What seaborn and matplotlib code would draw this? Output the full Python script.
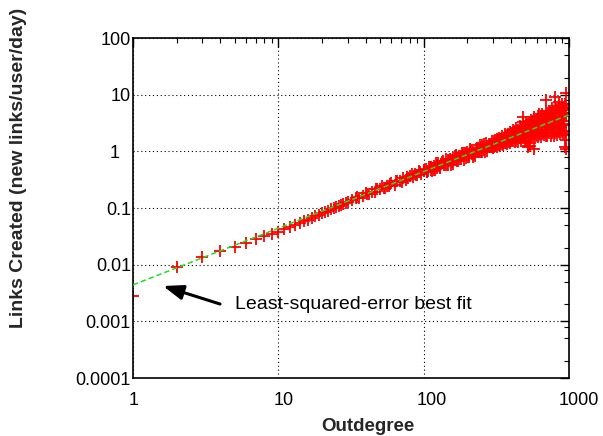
import matplotlib
matplotlib.use("Agg")
import matplotlib.pyplot as plt
import matplotlib.ticker as mticker
import matplotlib.transforms as mtransforms
import seaborn as sns
import pandas as pd

# ---------------- data ----------------
deg_low = list(range(1, 31))
rate_low = [0.0028, 0.0092, 0.0138, 0.0174, 0.0202, 0.0244, 0.0284, 0.032, 0.0348, 0.038,
            0.0425, 0.046, 0.0495, 0.0535, 0.058, 0.062, 0.066, 0.071, 0.075, 0.080,
            0.085, 0.090, 0.095, 0.099, 0.104, 0.108, 0.113, 0.118, 0.122, 0.127]

deg_mid = [32, 34, 36, 38, 40, 42, 44, 46, 48, 50, 52, 54, 56, 58, 60, 63, 66, 69, 72, 75,
           78, 81, 84, 87, 90, 93, 96, 100]
rate_mid = [0.137, 0.153, 0.150, 0.165, 0.183, 0.178, 0.194, 0.190, 0.217, 0.216, 0.243,
            0.226, 0.248, 0.247, 0.277, 0.258, 0.296, 0.298, 0.339, 0.314, 0.343, 0.370,
            0.348, 0.394, 0.384, 0.442, 0.405, 0.449]

deg_mid2 = [35, 41, 47, 53, 59, 65, 71, 77, 83, 89, 95]
rate_mid2 = [0.159, 0.175, 0.217, 0.221, 0.265, 0.303, 0.293, 0.353, 0.391, 0.376, 0.439]

deg_c1 = [103, 106, 109, 112, 115, 118, 121, 124, 127, 130, 134, 138, 142, 146, 150, 154,
          158, 162, 166, 170, 175, 180, 185, 190, 195, 200, 205, 210, 215, 220, 226, 232,
          238, 244, 250, 256, 262, 268, 274, 280, 287, 294, 300]
rate_c1 = [0.489, 0.424, 0.538, 0.473, 0.445, 0.545, 0.612, 0.508, 0.559, 0.498, 0.649,
           0.577, 0.738, 0.578, 0.680, 0.583, 0.778, 0.692, 0.876, 0.666, 0.816, 0.729,
           0.944, 0.711, 0.875, 0.968, 0.794, 1.10, 0.889, 1.036, 0.835, 1.154, 1.016,
           1.31, 0.957, 1.171, 1.038, 1.379, 1.001, 1.343, 1.20, 1.553, 1.162]

deg_c2 = [105, 111, 117, 123, 129, 136, 144, 152, 160, 168, 177, 187, 197, 207, 217, 228,
          240, 252, 264, 277, 290]
rate_c2 = [0.439, 0.537, 0.464, 0.573, 0.523, 0.676, 0.564, 0.723, 0.605, 0.828, 0.732,
           0.946, 0.763, 0.957, 0.783, 1.103, 0.961, 1.286, 0.988, 1.243, 1.187]

deg_c3 = [101, 107, 113, 119, 125, 131, 140, 148, 156, 164, 172, 182, 192, 202, 212, 223,
          235, 247, 259, 271, 284, 297]
rate_c3 = [0.471, 0.457, 0.537, 0.472, 0.616, 0.588, 0.567, 0.716, 0.652, 0.830, 0.681,
           0.841, 0.946, 0.809, 1.064, 0.912, 1.137, 0.957, 1.334, 1.132, 1.35, 1.176]

deg_high = [305, 305, 305, 312, 312, 312, 320, 320, 320, 328, 328, 328, 336, 336, 336,
            345, 345, 345, 354, 354, 354, 363, 363, 363, 372, 372, 372, 382, 382, 382,
            392, 392, 392, 402, 402, 402, 413, 413, 413, 424, 424, 424, 435, 435, 435,
            446, 446, 446, 458, 458, 458, 470, 470, 470, 482, 482, 482, 495, 495, 495,
            508, 508, 508, 521, 521, 521, 535, 535, 535, 549, 549, 549, 563, 563, 563,
            578, 578, 578, 593, 593, 593, 608, 608, 608, 624, 624, 624, 640, 640, 640,
            657, 657, 657, 674, 674, 674, 691, 691, 691, 709, 709, 709, 727, 727, 727,
            746, 746, 746, 765, 765, 765, 785, 785, 785, 805, 805, 805, 826, 826, 826,
            847, 847, 847, 869, 869, 869, 891, 891, 891, 914, 914, 914, 937, 937, 937,
            950, 950, 950]
rate_high = [1.50, 1.18, 1.34, 1.24, 1.58, 1.41, 1.66, 1.21, 1.37, 1.33, 1.56, 1.73,
             1.26, 1.51, 1.68, 1.85, 1.37, 1.47, 1.31, 1.71, 1.56, 1.87, 1.41, 2.00,
             1.34, 1.72, 1.56, 2.02, 1.46, 1.85, 1.38, 2.21, 1.67, 2.00, 1.52, 1.80,
             2.36, 1.51, 1.73, 1.46, 2.16, 1.96, 2.58, 1.72, 1.53, 2.16, 1.49, 2.39,
             1.71, 2.82, 2.02, 2.59, 1.53, 1.92, 1.70, 3.29, 2.29, 2.83, 1.57, 2.07,
             1.52, 2.57, 3.24, 1.26, 2.29, 3.09, 1.41, 2.94, 2.00, 3.62, 1.69, 2.54,
             1.86, 3.47, 2.28, 4.07, 1.73, 2.85, 1.88, 3.39, 2.48, 4.15, 1.77, 2.89,
             1.92, 3.43, 4.53, 1.80, 2.87, 4.08, 4.63, 2.02, 3.41, 1.93, 4.00, 2.67,
             5.17, 1.88, 3.34, 1.87, 4.37, 2.96, 5.18, 2.11, 3.84, 1.90, 4.27, 2.89,
             5.89, 2.12, 3.70, 1.90, 5.01, 3.28, 6.38, 2.13, 4.07, 1.96, 4.91, 3.27,
             6.34, 2.16, 4.03, 1.99, 5.74, 3.63, 6.74, 2.16, 4.70, 2.01, 5.83, 3.42,
             6.80, 1.98, 4.53, 2.30, 6.69, 4.18]

deg_high2 = [308, 316, 324, 332, 340, 350, 359, 368, 377, 387, 397, 407, 418, 429, 440,
             452, 464, 476, 488, 501, 514, 528, 542, 556, 570, 585, 600, 616, 632, 648,
             665, 682, 700, 718, 736, 755, 775, 795, 815, 836, 858, 880, 902, 925, 945]
rate_high2 = [1.42, 1.29, 1.57, 1.31, 1.68, 1.42, 1.71, 1.42, 1.91, 1.53, 1.96, 1.56,
              2.17, 1.70, 2.32, 1.71, 2.35, 1.76, 2.68, 1.87, 2.71, 1.86, 3.10, 2.01,
              3.14, 2.06, 3.56, 2.22, 3.62, 2.22, 4.10, 2.40, 4.16, 2.37, 4.70, 2.59,
              4.77, 2.52, 5.38, 2.76, 5.29, 2.71, 6.15, 2.93, 5.61]

deg_extra = [560, 600, 650, 700, 750, 800, 850, 900, 940, 920, 880, 780, 720, 620, 580]
rate_extra = [3.0, 2.0, 3.6, 2.4, 4.3, 2.6, 4.9, 2.9, 5.3, 3.0, 4.8, 2.7, 4.1, 3.5, 2.1]

deg_out = [482, 520, 540, 575, 696, 802, 860, 950, 950, 948, 940]
rate_out = [4.0, 1.2, 1.25, 1.1, 8.0, 9.2, 7.5, 10.6, 1.09, 1.6, 1.21]

fit_deg = [1, 1000]
fit_rate = [0.0044, 4.4]

x_ticks = [1, 10, 100, 1000]
x_tick_labels = ["1", "10", "100", "1000"]
y_ticks = [0.0001, 0.001, 0.01, 0.1, 1, 10, 100]
y_tick_labels = ["0.0001", "0.001", "0.01", "0.1", "1", "10", "100"]

# ---------------- build frames ----------------
pts = pd.DataFrame({
    "deg": deg_low + deg_mid + deg_mid2 + deg_c1 + deg_c2 + deg_c3 + deg_high
           + deg_high2 + deg_extra + deg_out,
    "rate": rate_low + rate_mid + rate_mid2 + rate_c1 + rate_c2 + rate_c3 + rate_high
            + rate_high2 + rate_extra + rate_out,
})
fit = pd.DataFrame({"deg": fit_deg, "rate": fit_rate})

sns.set_style("white")
plt.rcParams["font.family"] = ["Liberation Sans", "DejaVu Sans"]

fig = plt.figure(figsize=(6.03, 4.36), dpi=100)
ax = fig.add_axes([133 / 603, 1 - 378 / 436, 436 / 603, 340 / 436])

sns.scatterplot(data=pts, x="deg", y="rate", marker="+", s=64, color="#ff0000",
                linewidth=1.3, ax=ax, zorder=2, legend=False)
sns.lineplot(data=fit, x="deg", y="rate", color="#22dd22", linewidth=1.1,
             dashes=False, ax=ax, zorder=3, legend=False)
ax.lines[-1].set_linestyle((0, (3.5, 2)))

ax.set_xscale("log")
ax.set_yscale("log")
ax.set_xlim(1, 1000)
ax.set_ylim(0.0001, 100)

ax.xaxis.set_major_locator(mticker.FixedLocator(x_ticks))
ax.xaxis.set_major_formatter(mticker.FixedFormatter(x_tick_labels))
ax.yaxis.set_major_locator(mticker.FixedLocator(y_ticks))
ax.yaxis.set_major_formatter(mticker.FixedFormatter(y_tick_labels))
ax.xaxis.set_minor_locator(mticker.LogLocator(base=10, subs=range(2, 10), numticks=20))
ax.yaxis.set_minor_locator(mticker.LogLocator(base=10, subs=(2, 5, 8), numticks=20))
ax.xaxis.set_minor_formatter(mticker.NullFormatter())
ax.yaxis.set_minor_formatter(mticker.NullFormatter())

ax.tick_params(which="both", direction="in", top=True, right=True, colors="black")
ax.tick_params(which="major", length=6.5, width=1.0, labelsize=13)
ax.tick_params(which="minor", length=3.6, width=0.8)
ax.tick_params(axis="x", which="major", pad=10)
ax.tick_params(axis="y", which="major", pad=1.5)

ax.grid(True, which="major", color="black", linestyle=(0, (1, 2.5)), linewidth=0.8)
ax.grid(False, which="minor")
for sp in ax.spines.values():
    sp.set_visible(True)
    sp.set_color("black")
    sp.set_linewidth(1.2)

ax.set_xlabel("Outdegree", fontsize=13.5, fontweight="bold")
ax.set_ylabel("Links Created (new links/user/day)", fontsize=14, fontweight="bold")
ax.xaxis.label.set_va("center")
ax.yaxis.label.set_va("center")
ax.xaxis.set_label_coords((368 - 133) / 436, (378 - 426) / 340)
ax.yaxis.set_label_coords((18 - 133) / 436, (378 - 168) / 340)

ax.annotate("", xy=(1.61, 0.0042), xytext=(3.97, 0.00202),
            arrowprops=dict(arrowstyle="-|>,head_length=0.6,head_width=0.22",
                            color="black", lw=2.2, mutation_scale=20,
                            shrinkA=0, shrinkB=0))
ax.text(5.04, 0.00198, "Least-squared-error best fit", fontsize=14,
        ha="left", va="center", color="black")

# small per-label nudges as seen in the original renderer
fig.canvas.draw()
x_nudge_px = [1, 5, 8.5, 10]
for lab, dx in zip(ax.xaxis.get_majorticklabels(), x_nudge_px):
    lab.set_transform(lab.get_transform()
                      + mtransforms.ScaledTranslation(dx / 100, 0, fig.dpi_scale_trans))
y_nudge_px = [0, 0, 0, 0, -11, 0, 0]
for lab, dx in zip(ax.yaxis.get_majorticklabels(), y_nudge_px):
    lab.set_transform(lab.get_transform()
                      + mtransforms.ScaledTranslation(dx / 100, 0, fig.dpi_scale_trans))

fig.savefig("out.png", dpi=100)
